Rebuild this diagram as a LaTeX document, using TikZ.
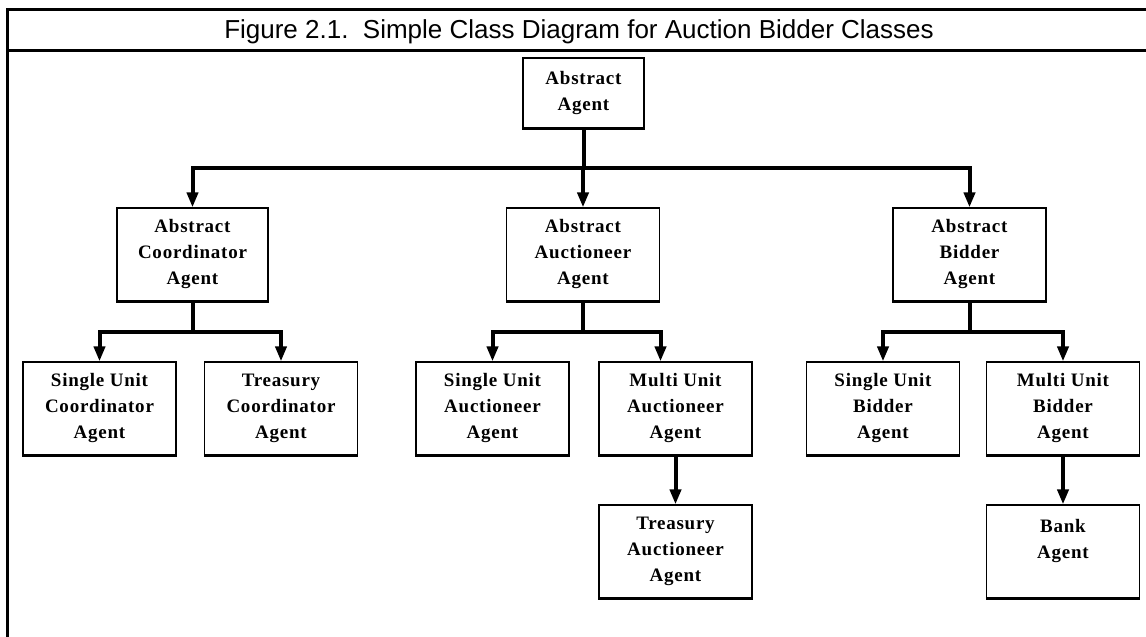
\documentclass[tikz,border=0pt]{standalone}
\usepackage{fontspec}
\usetikzlibrary{arrows.meta}
\newfontfamily\titlefont{Liberation Sans}
\newfontfamily\clsfont[LetterSpace=4]{Liberation Serif}
\tikzset{
  cls/.style={draw, line width=1.2pt, minimum width=153pt, minimum height=93pt,
    inner sep=0pt, align=center, font=\clsfont\bfseries\fontsize{19}{26}\selectfont},
  link/.style={line width=4pt, -{Triangle[width=11pt,length=15pt]}},
  frame/.style={line width=3pt}
}
\begin{document}
\begin{tikzpicture}[x=1pt,y=-1pt]
  \useasboundingbox (0,0) rectangle (1146,637);
  \draw[frame] (1146,9) -- (7,9) -- (7,637);
  \draw[frame] (7,50) -- (1146,50);
  \node[font=\titlefont\fontsize{26}{30}\selectfont, anchor=base] (title) at (579,38)
    {Figure 2.1.\ \ Simple Class Diagram for Auction Bidder Classes};

  \node[cls, minimum width=121pt, minimum height=70pt] (agent) at (583.5,93) {Abstract\\Agent};

  \node[cls, minimum width=151pt] (coord) at (192.5,254.5) {Abstract\\Coordinator\\Agent};
  \node[cls] (auct) at (583,254.5) {Abstract\\Auctioneer\\Agent};
  \node[cls] (bidder) at (969.5,254.5) {Abstract\\Bidder\\Agent};

  \node[cls] (sucoord) at (99.5,408.5) {Single Unit\\Coordinator\\Agent};
  \node[cls] (trcoord) at (281,408.5) {Treasury\\Coordinator\\Agent};
  \node[cls] (suauct) at (492.5,408.5) {Single Unit\\Auctioneer\\Agent};
  \node[cls] (muauct) at (675.5,408.5) {Multi Unit\\Auctioneer\\Agent};
  \node[cls] (subid) at (883,408.5) {Single Unit\\Bidder\\Agent};
  \node[cls] (mubid) at (1063,408.5) {Multi Unit\\Bidder\\Agent};

  \node[cls] (trauct) at (675.5,551.5) {Treasury\\Auctioneer\\Agent};
  \node[cls] (bank) at (1063,551.5) {Bank\\Agent\\~};

  \foreach \n in {agent,coord,auct,bidder,sucoord,trcoord,suauct,muauct,subid,mubid,trauct,bank}
    \draw[line width=2.5pt] (\n.south west) -- (\n.south east);

  \coordinate (bar1) at (0,168);
  \coordinate (bar2) at (0,332);
  \foreach \n in {coord,auct,bidder}
    \draw[link] (agent.south) -- (agent.south |- bar1) -| (\n.north);

  \draw[link] (coord.south) -- (coord.south |- bar2) -| (sucoord.north);
  \draw[link] (coord.south) -- (coord.south |- bar2) -| (trcoord.north);
  \draw[link] (auct.south) -- (auct.south |- bar2) -| (suauct.north);
  \draw[link] (auct.south) -- (auct.south |- bar2) -| ([xshift=-15pt]muauct.north);
  \draw[link] (bidder.south) -- (bidder.south |- bar2) -| (subid.north);
  \draw[link] (bidder.south) -- (bidder.south |- bar2) -| (mubid.north);
  \draw[link] (muauct.south) -- (trauct.north);
  \draw[link] (mubid.south) -- (bank.north);
\end{tikzpicture}
\end{document}
